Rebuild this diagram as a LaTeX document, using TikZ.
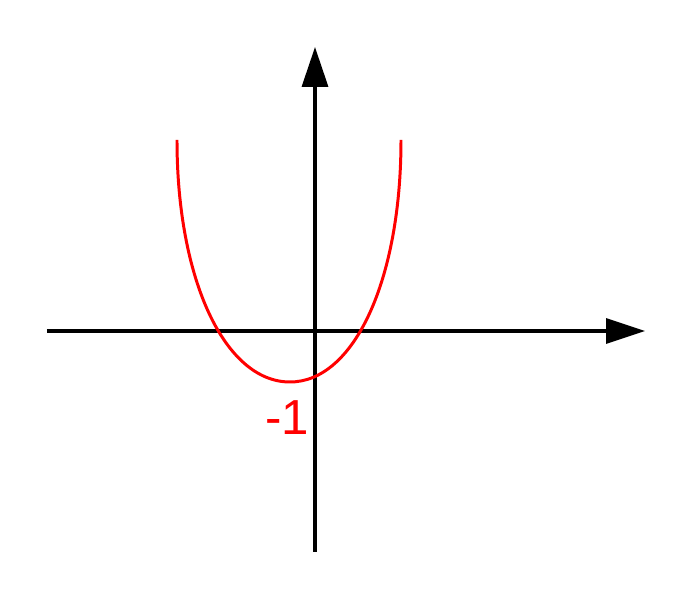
\documentclass[tikz,border=0pt]{standalone}
\usepackage{fontspec}
\setmainfont{Liberation Sans}
\usetikzlibrary{arrows.meta}
\begin{document}
\begin{tikzpicture}[x=0.02cm,y=0.02cm]
    \useasboundingbox (-315,-270) rectangle (378,331);
    \draw [-{Triangle[length=0.78cm,width=0.5cm]},line width=2pt] (-268,0) -- (330,0);
    \draw [-{Triangle[length=0.8cm,width=0.52cm]},line width=2pt] (0,-221) -- (0,284);
    \draw [red,line width=1.7pt] (-138,191) .. controls (-138,51) and (-90,-51) .. (-25,-51)
      .. controls (39,-51) and (86,51) .. (86,191);
    \node [red,font=\fontsize{28}{30}\selectfont] (val) at (-28,-87) {-1};
  \end{tikzpicture}
\end{document}
